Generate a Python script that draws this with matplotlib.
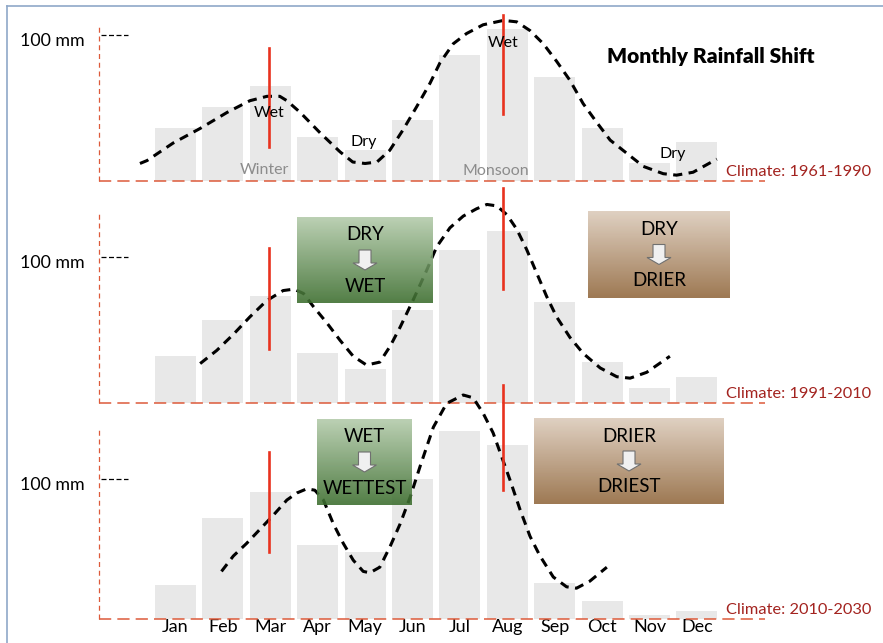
import numpy as np
import matplotlib
matplotlib.use("Agg")
import matplotlib.pyplot as plt
from matplotlib.patches import Polygon

plt.rcParams['font.family'] = ['Lato', 'DejaVu Sans']

W, H = 883, 643

months = ["Jan", "Feb", "Mar", "Apr", "May", "Jun",
          "Jul", "Aug", "Sep", "Oct", "Nov", "Dec"]

# monthly rainfall (mm) per climate period
rain_1961 = [36, 51, 65, 30, 21, 42, 86, 104, 71, 36, 12, 27]
rain_1991 = [32, 57, 73, 34, 23, 64, 105, 118, 69, 28, 10, 18]
rain_2010 = [24, 72, 91, 53, 48, 100, 134, 124, 26, 13, 3, 6]

# dashed trend curves (month position, mm)
trend_1961_x = [-0.75, -0.6, -0.05, 0.52, 1.09, 1.57, 1.93, 2.2, 2.35, 2.63, 3.05, 3.47, 3.74,
                4.0, 4.25, 4.52, 4.8, 5.09, 5.37, 5.58, 5.86, 6.14, 6.49, 6.92, 7.2, 7.48,
                7.76, 8.04, 8.32, 8.6, 8.89, 9.17, 9.52, 9.87, 10.29, 10.57, 10.92, 11.42]
trend_1961_y = [12, 14, 26, 36, 47, 55, 58, 58, 55, 47, 33, 20, 13,
                12, 13, 21, 35, 51, 67, 81, 94, 101, 107, 110, 109, 103,
                94, 82, 69, 53, 40, 28, 19, 10, 5, 4, 6, 15]

trend_1991_x = [0.52, 0.87, 1.22, 1.57, 1.92, 2.27, 2.5, 2.7, 2.91, 3.19, 3.47, 3.75, 4.03,
                4.31, 4.53, 4.74, 5.02, 5.3, 5.51, 5.79, 6.07, 6.35, 6.57, 6.78, 6.99,
                7.2, 7.41, 7.62, 7.83, 8.04, 8.32, 8.6, 8.96, 9.31, 9.59, 9.94, 10.43]
trend_1991_y = [27, 36, 47, 59, 70, 77, 78, 75, 66, 55, 43, 32, 26,
                28, 39, 52, 71, 91, 107, 120, 128, 133, 136, 135, 129,
                119, 105, 89, 73, 59, 45, 34, 24, 18, 17, 21, 32]

trend_2010_x = [0.97, 1.22, 1.5, 1.78, 2.06, 2.35, 2.56, 2.77, 2.94, 3.12, 3.33, 3.54, 3.75,
                3.96, 4.1, 4.31, 4.53, 4.74, 4.95, 5.16, 5.44, 5.72, 6.07, 6.28, 6.49,
                6.7, 6.88, 7.06, 7.27, 7.48, 7.69, 7.97, 8.25, 8.46, 8.74, 9.1]
trend_2010_y = [34, 45, 54, 64, 74, 85, 90, 93, 92, 85, 68, 54, 42,
                34, 33, 37, 52, 68, 87, 109, 137, 154, 160, 158, 147,
                133, 116, 99, 78, 59, 45, 30, 23, 22, 27, 37]

# red marker lines: (month position, low mm, high mm)
marks_1961 = [(1.97, 23, 91), (6.91, 46, 114)]
marks_1991 = [(1.97, 37, 106), (6.91, 78, 147)]
marks_2010 = [(1.97, 48, 119), (6.91, 92, 167)]

climates = ["Climate: 1961-1990", "Climate: 1991-2010", "Climate: 2010-2030"]

# panel layout in pixels: top, baseline, px per mm
panels = [
    (25, 181, 1.46, rain_1961, trend_1961_x, trend_1961_y, marks_1961),
    (213, 403, 1.46, rain_1991, trend_1991_x, trend_1991_y, marks_1991),
    (429, 619, 1.40, rain_2010, trend_2010_x, trend_2010_y, marks_2010),
]

X_LEFT, X_RIGHT = 99, 765
BAR_C0, BAR_STEP = 175.5, 47.4
SPINE = '#dd5a3a'


def px_axes(fig, left, top, right, bottom):
    return fig.add_axes([left / W, 1 - bottom / H, (right - left) / W, (bottom - top) / H])


fig = plt.figure(figsize=(W / 100, H / 100), dpi=100)

axes = []
for i, (top, base, scale, rain, tx, ty, marks) in enumerate(panels):
    ax = px_axes(fig, X_LEFT, top, X_RIGHT, base)
    ax.set_xlim((X_LEFT - BAR_C0) / BAR_STEP, (X_RIGHT - BAR_C0) / BAR_STEP)
    ax.set_ylim(0, (base - top) / scale)
    ax.patch.set_alpha(0)
    for s in ax.spines.values():
        s.set_visible(False)
    ax.bar(range(12), rain, width=0.865, color='#e8e8e8', zorder=1)
    ax.plot(tx, ty, color='black', lw=2.2, dashes=(3.0, 2.1), clip_on=False, zorder=3)
    for mx, lo, hi in marks:
        ax.plot([mx, mx], [lo, hi], color='#e8321e', lw=1.9, clip_on=False, zorder=4)
    # axis lines
    ax.plot([0, 0], [0, 1], transform=ax.transAxes, color=SPINE, lw=0.9,
            dashes=(4, 3), clip_on=False, zorder=2)
    ax.plot([0, 1], [0, 0], transform=ax.transAxes, color=SPINE, lw=1.1,
            dashes=(8, 4), clip_on=False, zorder=2)
    # 100 mm reference tick
    ax.plot([(101 - BAR_C0) / BAR_STEP, (128 - BAR_C0) / BAR_STEP], [100, 100],
            color='black', lw=0.9, dashes=(4, 2), clip_on=False)
    ax.set_yticks([])
    if i == 2:
        ax.set_xticks(range(12))
        ax.set_xticklabels(months, fontsize=13)
        ax.tick_params(axis='x', length=0, pad=0)
    else:
        ax.set_xticks([])
    axes.append(ax)

# overlay in pixel coordinates for boxes and labels
ov = fig.add_axes([0, 0, 1, 1], zorder=10)
ov.set_xlim(0, W)
ov.set_ylim(H, 0)
ov.axis('off')
ov.patch.set_alpha(0)

# frame
ov.plot([7, W], [6, 6], color='#8fa8c8', lw=1.2)
ov.plot([7, 7], [6, H], color='#8fa8c8', lw=1.2)

ov.text(711, 57, "Monthly Rainfall Shift", fontsize=15, fontweight='heavy',
        ha='center', va='center')

for (top, base, scale, *_), label in zip(panels, climates):
    y100 = base - 100 * scale
    ov.text(85, y100 + 6, "100 mm", fontsize=12.8, ha='right', va='center')
    ov.text(726, base - 9, label, fontsize=11.8, color='#a3231f', ha='left', va='center')

# small labels in the top panel
ov.text(269, 113, "Wet", fontsize=11.5, ha='center', va='center')
ov.text(364, 142, "Dry", fontsize=11.5, ha='center', va='center')
ov.text(503, 43, "Wet", fontsize=11.5, ha='center', va='center')
ov.text(673, 154, "Dry", fontsize=11.5, ha='center', va='center')
ov.text(264, 170, "Winter", fontsize=11.5, color='#8c8c8c', ha='center', va='center')
ov.text(496, 171, "Monsoon", fontsize=11.5, color='#8c8c8c', ha='center', va='center')

GREEN = ('#b2caa9', '#3b6d2d')
BROWN = ('#dbcab9', '#91673c')
boxes = [
    (297, 217, 433, 303, GREEN, "DRY", "WET"),
    (588, 211, 730, 298, BROWN, "DRY", "DRIER"),
    (317, 419, 412, 505, GREEN, "WET", "WETTEST"),
    (534, 418, 724, 504, BROWN, "DRIER", "DRIEST"),
]


def hex_rgb(c):
    return np.array([int(c[k:k + 2], 16) / 255 for k in (1, 3, 5)])


for x0, y0, x1, y1, (ctop, cbot), t1, t2 in boxes:
    t = np.linspace(0, 1, 64)[:, None, None]
    grad = hex_rgb(ctop)[None, None, :] * (1 - t) + hex_rgb(cbot)[None, None, :] * t
    ov.imshow(grad, extent=(x0, x1, y1, y0), origin='upper', aspect='auto',
              alpha=0.88, zorder=5)
    cx = (x0 + x1) / 2
    cy = (y0 + y1) / 2
    ov.text(cx, cy - 25, t1, fontsize=13.5, ha='center', va='center', zorder=7)
    ov.text(cx, cy + 26, t2, fontsize=13.5, ha='center', va='center', zorder=7)
    a0 = cy - 10
    arrow = Polygon([(cx - 6, a0), (cx + 6, a0), (cx + 6, a0 + 13), (cx + 12, a0 + 13),
                     (cx, a0 + 20), (cx - 12, a0 + 13), (cx - 6, a0 + 13)],
                    closed=True, facecolor='#f0f0f0', edgecolor='#707070', lw=0.8, zorder=6)
    ov.add_patch(arrow)

ov.set_xlim(0, W)
ov.set_ylim(H, 0)

fig.savefig("out.png", dpi=100)
